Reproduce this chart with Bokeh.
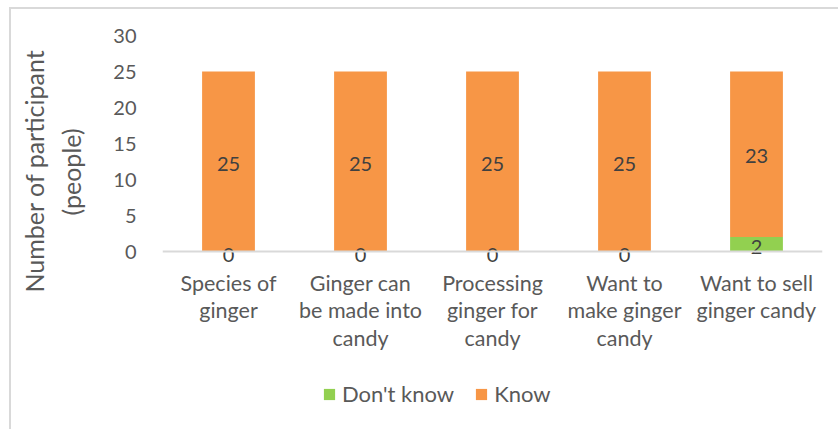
from bokeh.plotting import figure
from bokeh.models import ColumnDataSource, FactorRange, Range1d, Legend, LegendItem, Span, Title
from bokeh.core.properties import value
from bokeh.embed import file_html
from bokeh.resources import INLINE

categories = ["Species of ginger", "Ginger can be made into candy", "Processing ginger for candy",
              "Want to make ginger candy", "Want to sell ginger candy"]
tick_labels = ["Species of\nginger", "Ginger can\nbe made into\ncandy", "Processing\nginger for\ncandy",
               "Want to\nmake ginger\ncandy", "Want to sell\nginger candy"]
dont_know = [0, 0, 0, 0, 2]
know = [25, 25, 25, 25, 23]
series_names = ["Don't know", "Know"]
y_ticks = [0, 5, 10, 15, 20, 25, 30]
y_title_lines = ["Number of participant", "(people)"]

FONT = "Lato"
TXT = "#595959"
GREEN = "#92D050"
ORANGE = "#F79646"

src = ColumnDataSource(dict(
    cat=categories,
    dont=dont_know,
    know=know,
    dont_mid=[d / 2 for d in dont_know],
    know_mid=[d + k / 2 for d, k in zip(dont_know, know)],
    dont_txt=[str(v) for v in dont_know],
    know_txt=[str(v) for v in know],
    base=[0] * len(categories),
    lab=tick_labels,
))

PX_PER_UNIT = 7.2
FRAME_H = 389
y_min = 30 - FRAME_H / PX_PER_UNIT

p = figure(width=827, height=420, x_range=FactorRange(*categories), y_range=Range1d(y_min, 30),
           output_backend="svg", toolbar_location=None,
           frame_width=660, frame_height=FRAME_H,
           min_border_left=151, min_border_right=16, min_border_top=26, min_border_bottom=5)
p.margin = (7, 0, 0, 9)
p.styles = {"border-left": "2px solid #d9d9d9", "border-top": "2px solid #d9d9d9"}
p.outline_line_color = None
p.xgrid.grid_line_color = None
p.ygrid.grid_line_color = None
p.x_range.range_padding = 0
p.x_range.factor_padding = 0
p.xaxis.visible = False

p.add_layout(Span(location=0, dimension="width", line_color="#d9d9d9", line_width=2))

r = p.vbar_stack(["dont", "know"], x="cat", width=0.4, source=src, color=[GREEN, ORANGE], line_color=None)

p.text(x="cat", y="dont_mid", text="dont_txt", source=src, text_align="center", text_baseline="middle",
       y_offset=3, text_font=value(FONT), text_font_size="20px", text_color="#404040")
p.text(x="cat", y="know_mid", text="know_txt", source=src, text_align="center", text_baseline="middle",
       y_offset=2, text_font=value(FONT), text_font_size="20px", text_color="#404040")

# category labels below the baseline
p.text(x="cat", y="base", text="lab", source=src, text_align="center", text_baseline="top",
       y_offset=18, text_font=value(FONT), text_font_size="21.5px", text_color=TXT,
       text_line_height=1.065)

# y axis
p.yaxis.ticker = y_ticks
p.yaxis.axis_line_color = None
p.yaxis.major_tick_line_color = None
p.yaxis.minor_tick_line_color = None
p.yaxis.major_label_standoff = 20
p.yaxis.major_label_text_font = FONT
p.yaxis.major_label_text_font_size = "20px"
p.yaxis.major_label_text_color = TXT
# blank axis label only used as spacing before the title lines
p.yaxis.axis_label = " "
p.yaxis.axis_label_text_font_size = "1px"
p.yaxis.axis_label_standoff = 18

# y axis title as two rotated lines
for txt, off, stand in [(y_title_lines[1], 209, 6), (y_title_lines[0], 132, 4)]:
    t = Title(text=txt, align="left", offset=off, standoff=stand, text_font=FONT,
              text_font_size="25px", text_font_style="normal", text_color=TXT)
    p.add_layout(t, "left")

legend = Legend(items=[LegendItem(label=series_names[i], renderers=[r[i]]) for i in range(2)],
                orientation="horizontal", location=(160, 17))
legend.label_text_font = FONT
legend.label_text_font_size = "22px"
legend.label_text_color = TXT
legend.glyph_width = 14
legend.glyph_height = 14
legend.label_standoff = 6
legend.spacing = 20
legend.border_line_color = None
legend.background_fill_alpha = 0
legend.margin = 0
legend.padding = 0
p.add_layout(legend, "center")

open("out.html", "w").write(file_html(p, INLINE))
